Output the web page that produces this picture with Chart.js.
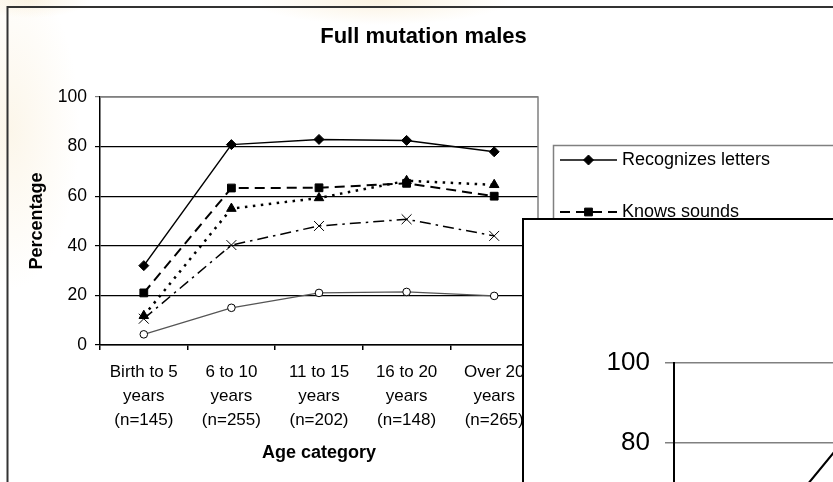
<!DOCTYPE html>
<html><head><meta charset="utf-8">
<script src="https://cdn.jsdelivr.net/npm/chart.js@4.4.0/dist/chart.umd.min.js"></script>
<style>
html,body{margin:0;padding:0;width:833px;height:482px;overflow:hidden;background:#fff;}
#bg{position:absolute;left:0;top:0;width:833px;height:482px;background:
 radial-gradient(ellipse 70px 160px at 10px 130px, rgba(247,230,195,0.35), rgba(255,255,255,0) 100%),
 radial-gradient(ellipse 130px 25px at 380px 0px, rgba(247,230,195,0.5), rgba(255,255,255,0) 100%),
 radial-gradient(ellipse 60px 18px at 30px 0px, rgba(247,230,195,0.45), rgba(255,255,255,0) 100%);}
#c1{position:absolute;left:0;top:0;}
#box2{position:absolute;left:522px;top:218px;width:900px;height:620px;border:2px solid #000;background:#fff;}
#c2{position:absolute;left:0;top:0;}
</style></head><body>
<div id="bg"></div>
<canvas id="c1" width="833" height="482"></canvas>
<div id="box2"><canvas id="c2" width="860" height="600"></canvas></div>
<script>
const FONT = "'Liberation Sans', Arial, sans-serif";
const chartTitle = 'Full mutation males';
const yAxisTitle = 'Percentage';
const xAxisTitle = 'Age category';
const categories = [
  ['Birth to 5', 'years', '(n=145)'],
  ['6 to 10', 'years', '(n=255)'],
  ['11 to 15', 'years', '(n=202)'],
  ['16 to 20', 'years', '(n=148)'],
  ['Over 20', 'years', '(n=265)']
];
const seriesNames = ['Recognizes letters', 'Knows sounds', 'Reads simple words', 'Reads sentences', 'Reads books'];
const recognizesLetters = [32, 80.8, 82.9, 82.5, 77.9];
const knowsSounds = [21, 63.3, 63.4, 65.2, 60];
const readsWords = [11.8, 55, 59.3, 66.2, 64.6];
const readsSentences = [10.6, 40.3, 48, 50.7, 44];
const readsBooks = [4.3, 15, 21, 21.4, 19.8];
const yMin = 0, yMax = 100, yStep = 20;
// second (overlapping) chart, mostly hidden
const secondSeries = [49, 89, 92, 93, 90];

function marker(ctx, style, x, y, r, fill, stroke) {
  ctx.save();
  ctx.beginPath();
  ctx.fillStyle = fill; ctx.strokeStyle = stroke; ctx.lineWidth = 1; ctx.setLineDash([]);
  if (style === 'rectRot') { ctx.moveTo(x, y - r); ctx.lineTo(x + r, y); ctx.lineTo(x, y + r); ctx.lineTo(x - r, y); ctx.closePath(); ctx.fill(); ctx.stroke(); }
  else if (style === 'rect') { const s = r * Math.SQRT1_2; ctx.rect(x - s, y - s, 2 * s, 2 * s); ctx.fill(); ctx.stroke(); }
  else if (style === 'triangle') { ctx.moveTo(x, y - r); ctx.lineTo(x + r * 0.95, y + r * 0.7); ctx.lineTo(x - r * 0.95, y + r * 0.7); ctx.closePath(); ctx.fill(); ctx.stroke(); }
  else if (style === 'crossRot') { const s = r * Math.SQRT1_2; ctx.moveTo(x - s, y - s); ctx.lineTo(x + s, y + s); ctx.moveTo(x + s, y - s); ctx.lineTo(x - s, y + s); ctx.lineWidth = 1.3; ctx.stroke(); }
  else { ctx.arc(x, y, r, 0, Math.PI * 2); ctx.fill(); ctx.stroke(); }
  ctx.restore();
}

const decor = {
  id: 'decor',
  beforeDraw(chart) {
    const ctx = chart.ctx;
    ctx.save();
    ctx.strokeStyle = '#333'; ctx.lineWidth = 2;
    ctx.strokeRect(7.5, 7, 2000, 2000);
    ctx.fillStyle = '#000';
    ctx.font = 'bold 22px ' + FONT;
    ctx.textAlign = 'center'; ctx.textBaseline = 'middle';
    ctx.fillText(chartTitle, 423.5, 37);
    ctx.restore();
  },
  beforeDatasetsDraw(chart) {
    const ctx = chart.ctx, a = chart.chartArea;
    ctx.save();
    ctx.strokeStyle = '#808080'; ctx.lineWidth = 1.5;
    ctx.beginPath(); ctx.moveTo(a.left, a.top); ctx.lineTo(a.right, a.top); ctx.lineTo(a.right, a.bottom); ctx.stroke();
    ctx.restore();
  },
  afterDraw(chart) {
    const ctx = chart.ctx;
    ctx.save();
    ctx.strokeStyle = '#808080'; ctx.lineWidth = 1.5;
    ctx.strokeRect(553.5, 145.5, 1000, 1000);
    chart.data.datasets.forEach((ds, i) => {
      const y = 160 + 52 * i;
      ctx.save();
      ctx.strokeStyle = ds.borderColor; ctx.lineWidth = ds.borderWidth;
      ctx.setLineDash(ds.borderDash || []);
      ctx.beginPath(); ctx.moveTo(560, y); ctx.lineTo(617, y); ctx.stroke();
      ctx.restore();
      marker(ctx, ds.pointStyle, 588.5, y, ds.pointRadius, ds.pointBackgroundColor, ds.pointBorderColor);
      ctx.fillStyle = '#000'; ctx.font = '18px ' + FONT;
      ctx.textAlign = 'left'; ctx.textBaseline = 'middle';
      ctx.fillText(ds.label, 622, y);
    });
    ctx.restore();
  }
};

const styles = [
  { data: recognizesLetters, borderColor: '#000', borderWidth: 1.5, borderDash: [], pointStyle: 'rectRot', pointRadius: 5, pointBackgroundColor: '#000', pointBorderColor: '#000' },
  { data: knowsSounds, borderColor: '#000', borderWidth: 2, borderDash: [10, 6], pointStyle: 'rect', pointRadius: 5.5, pointBackgroundColor: '#000', pointBorderColor: '#000' },
  { data: readsWords, borderColor: '#000', borderWidth: 2.5, borderDash: [2.5, 5.5], pointStyle: 'triangle', pointRadius: 5.5, pointBackgroundColor: '#000', pointBorderColor: '#000' },
  { data: readsSentences, borderColor: '#000', borderWidth: 1.5, borderDash: [11, 5, 2.5, 5], pointStyle: 'crossRot', pointRadius: 7, pointBackgroundColor: '#000', pointBorderColor: '#000' },
  { data: readsBooks, borderColor: '#555', borderWidth: 1.3, borderDash: [], pointStyle: 'circle', pointRadius: 3.8, pointBackgroundColor: '#fff', pointBorderColor: '#000' }
];

new Chart(document.getElementById('c1'), {
  type: 'line',
  data: {
    labels: categories,
    datasets: styles.map((s, i) => Object.assign({ label: seriesNames[i], tension: 0, fill: false, pointBorderWidth: 1, pointHoverRadius: s.pointRadius }, s))
  },
  options: {
    responsive: false, animation: false,
    layout: { padding: { top: 97, right: 295, left: 0, bottom: 0 } },
    plugins: { legend: { display: false }, tooltip: { enabled: false }, title: { display: false } },
    scales: {
      x: {
        offset: true,
        grid: { offset: true, drawOnChartArea: false, drawTicks: true, tickLength: 5, color: '#000', lineWidth: 1.5 },
        border: { display: true, color: '#000', width: 1.5 },
        ticks: { color: '#000', font: { family: FONT, size: 17 , lineHeight: 1.41 }, padding: 10, maxRotation: 0, autoSkip: false },
        title: { display: true, text: xAxisTitle, color: '#000', font: { family: FONT, size: 18, weight: 'bold' }, padding: { top: 0, bottom: 18 } },
        afterFit: s => { s.height = 137; }
      },
      y: {
        min: yMin, max: yMax,
        ticks: { stepSize: yStep, color: '#000', font: { family: FONT, size: 17.5 }, padding: 8 },
        grid: { color: c => (c.tick && c.tick.value === yMax) ? '#808080' : '#000', lineWidth: 1.2, tickLength: 5 },
        border: { display: true, color: '#000', width: 1.5 },
        title: { display: true, text: yAxisTitle, color: '#000', font: { family: FONT, size: 18, weight: 'bold' }, padding: { top: 26, bottom: 0 } },
        afterFit: s => { s.width = 100; }
      }
    }
  },
  plugins: [decor]
});

new Chart(document.getElementById('c2'), {
  type: 'line',
  data: {
    labels: categories,
    datasets: [{ label: seriesNames[0], data: secondSeries, borderColor: '#000', borderWidth: 2, tension: 0, pointStyle: 'rectRot', pointRadius: 6, pointBackgroundColor: '#000', pointBorderColor: '#000' }]
  },
  options: {
    responsive: false, animation: false,
    layout: { padding: { top: 143, right: 53, left: 0, bottom: 0 } },
    plugins: { legend: { display: false }, tooltip: { enabled: false } },
    scales: {
      x: { offset: true, grid: { display: false }, border: { color: '#000', width: 2 }, ticks: { color: '#000', font: { family: FONT, size: 26 }, maxRotation: 0 }, afterFit: s => { s.height = 57; } },
      y: {
        min: yMin, max: yMax,
        ticks: { stepSize: yStep, color: '#000', font: { family: FONT, size: 26 }, padding: 15 },
        grid: { color: '#808080', lineWidth: 1.5, tickLength: 9 },
        border: { display: true, color: '#000', width: 2 },
        afterFit: s => { s.width = 150; }
      }
    }
  }
});
</script>
</body></html>
